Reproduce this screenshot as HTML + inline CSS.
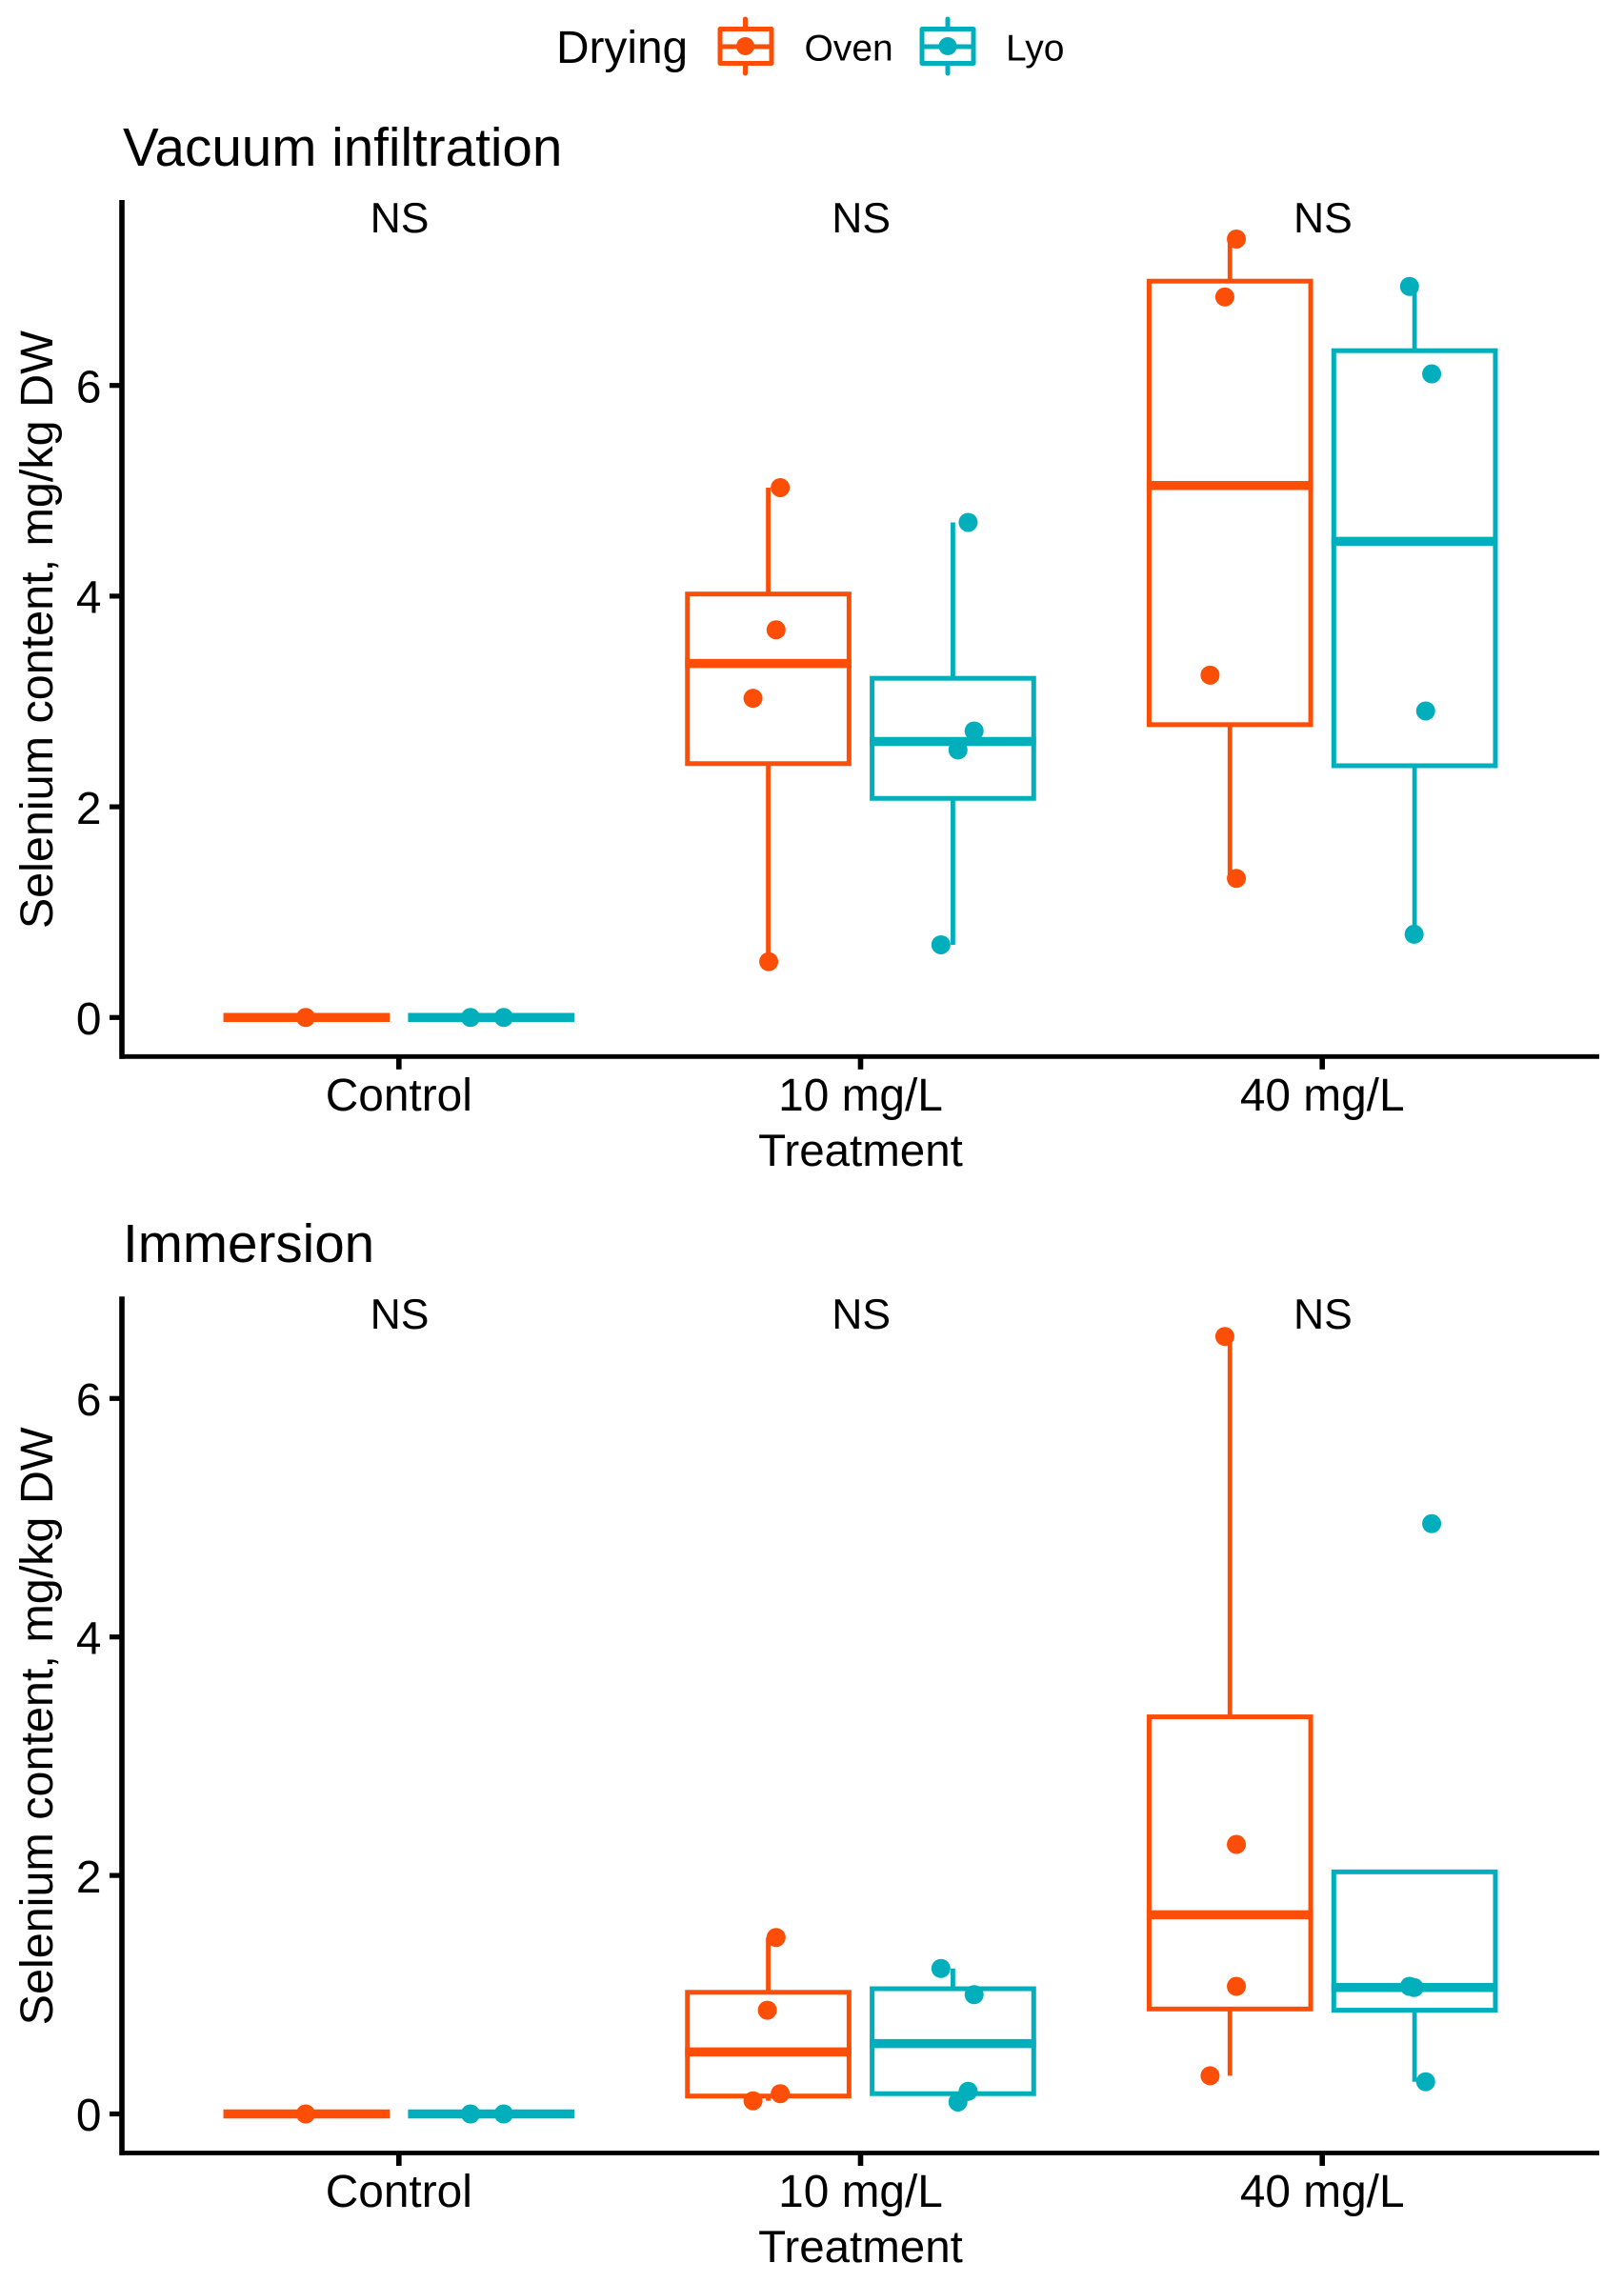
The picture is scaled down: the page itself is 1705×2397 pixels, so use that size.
<!DOCTYPE html>
<html>
<head>
<meta charset="utf-8">
<title>Selenium content by treatment and drying method</title>
<style>
html, body { margin: 0; padding: 0; background: #fff; }
svg { display: block; font-family: "Liberation Sans", Arial, sans-serif; }
</style>
</head>
<body>
<svg id="chart" xmlns="http://www.w3.org/2000/svg" width="1705" height="2397" viewBox="0 0 1705 2397">
  <rect x="0" y="0" width="1705" height="2397" fill="#ffffff"/>
  <g>
    <text x="584" y="66" font-size="47.8" fill="#000">Drying</text>
    <g stroke="#FC4E07" stroke-width="5" fill="none">
      <line x1="782.5" y1="20" x2="782.5" y2="77" stroke-linecap="round"/>
      <rect x="756" y="30.5" width="54" height="36" fill="#fff" stroke-linejoin="round"/>
      <line x1="756" y1="49" x2="810" y2="49"/>
      <circle cx="782.5" cy="48.5" r="9.5" fill="#FC4E07" stroke="none"/>
    </g>
    <text x="844.5" y="63.5" font-size="39" fill="#000">Oven</text>
    <g stroke="#00AFBB" stroke-width="5" fill="none">
      <line x1="995" y1="20" x2="995" y2="77" stroke-linecap="round"/>
      <rect x="968" y="30.5" width="54" height="36" fill="#fff" stroke-linejoin="round"/>
      <line x1="968" y1="49" x2="1022" y2="49"/>
      <circle cx="995" cy="48.5" r="9.5" fill="#00AFBB" stroke="none"/>
    </g>
    <text x="1056" y="63.5" font-size="39" fill="#000">Lyo</text>
  </g>
</svg>
<script>
// ---- Shared data ----
const categories = ['Control', '10 mg/L', '40 mg/L'];
const yTickValues = [0, 2, 4, 6];
const significanceLabels = ['NS', 'NS', 'NS'];

// ---- Vacuum infiltration: box statistics by category ----
const vacuumOvenLow = [0, 0.54, 1.33];
const vacuumOvenQ1 = [0, 2.41, 2.78];
const vacuumOvenMedian = [0, 3.36, 5.05];
const vacuumOvenQ3 = [0, 4.02, 6.99];
const vacuumOvenHigh = [0, 5.03, 7.39];
const vacuumLyoLow = [0, 0.69, 0.79];
const vacuumLyoQ1 = [0, 2.08, 2.39];
const vacuumLyoMedian = [0, 2.62, 4.52];
const vacuumLyoQ3 = [0, 3.22, 6.33];
const vacuumLyoHigh = [0, 4.70, 6.94];

// ---- Vacuum infiltration: raw points and jitter (category units) ----
const vacuumOvenPoints = [[0], [5.03, 3.68, 3.03, 0.53], [7.39, 6.84, 3.25, 1.32]];
const vacuumOvenJitter = [[-0.202], [-0.174, -0.183, -0.233, -0.199], [-0.186, -0.211, -0.243, -0.186]];
const vacuumLyoPoints = [[0, 0], [4.70, 2.72, 2.54, 0.69], [6.94, 6.11, 2.91, 0.79]];
const vacuumLyoJitter = [[0.155, 0.227], [0.233, 0.246, 0.211, 0.174], [0.189, 0.237, 0.224, 0.199]];

// ---- Immersion: box statistics by category ----
const immersionOvenLow = [0, 0.11, 0.32];
const immersionOvenQ1 = [0, 0.15, 0.88];
const immersionOvenMedian = [0, 0.52, 1.67];
const immersionOvenQ3 = [0, 1.02, 3.33];
const immersionOvenHigh = [0, 1.48, 6.52];
const immersionLyoLow = [0, 0.10, 0.27];
const immersionLyoQ1 = [0, 0.17, 0.87];
const immersionLyoMedian = [0, 0.59, 1.06];
const immersionLyoQ3 = [0, 1.05, 2.03];
const immersionLyoHigh = [0, 1.22, 2.03];

// ---- Immersion: raw points and jitter (category units) ----
const immersionOvenPoints = [[0], [1.48, 0.87, 0.17, 0.11], [6.52, 2.26, 1.07, 0.32]];
const immersionOvenJitter = [[-0.202], [-0.183, -0.202, -0.174, -0.233], [-0.211, -0.186, -0.186, -0.243]];
const immersionLyoPoints = [[0, 0], [1.22, 1.00, 0.19, 0.10], [4.95, 1.07, 1.06, 0.27]];
const immersionLyoJitter = [[0.155, 0.227], [0.174, 0.246, 0.233, 0.211], [0.237, 0.189, 0.199, 0.224]];

// ---- Drawing ----
const SVG_NS = 'http://www.w3.org/2000/svg';
const OVEN = '#FC4E07';
const LYO = '#00AFBB';
const svg = document.getElementById('chart');

function xScale(position) { return 418.8 + position * 484.7; }

function make(parent, tag, attrs, text) {
  const node = document.createElementNS(SVG_NS, tag);
  Object.keys(attrs).forEach(function (k) { node.setAttribute(k, attrs[k]); });
  if (text !== undefined) node.textContent = text;
  parent.appendChild(node);
  return node;
}

function drawSeries(parent, seriesName, color, dodge, yScale, low, q1, med, q3, high, points, jitter) {
  categories.forEach(function (cat, i) {
    const group = make(parent, 'g', {});
    
    
    const cx = xScale(i + dodge);
    const left = xScale(i + dodge - 0.175);
    const right = xScale(i + dodge + 0.175);

    const whiskerTop = make(group, 'line', { x1: cx, x2: cx, y1: yScale(q3[i]), y2: yScale(high[i]), stroke: color, 'stroke-width': 4.8 });
    
    

    const whiskerBottom = make(group, 'line', { x1: cx, x2: cx, y1: yScale(q1[i]), y2: yScale(low[i]), stroke: color, 'stroke-width': 4.8 });
    
    

    const rect = make(group, 'rect', { x: left, y: yScale(q3[i]), width: right - left, height: Math.max(0, yScale(q1[i]) - yScale(q3[i])), fill: 'none', stroke: color, 'stroke-width': 5 });
    
    

    const median = make(group, 'line', { x1: left - 2.5, x2: right + 2.5, y1: yScale(med[i]), y2: yScale(med[i]), stroke: color, 'stroke-width': 9.5 });
    
    

    points[i].forEach(function (value, j) {
      const dot = make(group, 'circle', { cx: xScale(i + jitter[i][j]), cy: yScale(value), r: 10, fill: color });
      
      
    });
  });
}

function drawPanel(name, title, offsetY, zeroY, unit, oven, lyo) {
  const panel = make(svg, 'g', {});
  
  
  function yScale(v) { return zeroY - v * unit; }
  const axisY = 1109.3 + offsetY;
  const top = 210 + offsetY;

  const titleText = make(panel, 'text', { x: 129, y: 174 + offsetY, 'font-size': 56.6, fill: '#000' }, title);
  
  

  const yAxis = make(panel, 'line', { x1: 128, x2: 128, y1: top, y2: axisY + 2.4, stroke: '#000', 'stroke-width': 5.6 });
  
  

  const xAxis = make(panel, 'line', { x1: 125.5, x2: 1679, y1: axisY, y2: axisY, stroke: '#000', 'stroke-width': 4.8 });
  
  

  yTickValues.forEach(function (v) {
    const tick = make(panel, 'line', { x1: 115, x2: 128, y1: yScale(v), y2: yScale(v), stroke: '#000', 'stroke-width': 5.2 });
    
    
    const label = make(panel, 'text', { x: 106.5, y: yScale(v) + 17.7, 'font-size': 47.8, 'text-anchor': 'end', fill: '#000' }, String(v));
    
    
  });

  categories.forEach(function (cat, i) {
    const tick = make(panel, 'line', { x1: xScale(i), x2: xScale(i), y1: axisY, y2: axisY + 13.5, stroke: '#000', 'stroke-width': 5.6 });
    
    
    const label = make(panel, 'text', { x: xScale(i), y: 1166 + offsetY, 'font-size': 47.8, 'text-anchor': 'middle', fill: '#000' }, cat);
    
    
    const ns = make(panel, 'text', { x: xScale(i) + 0.7, y: 244 + offsetY, 'font-size': 44.5, 'text-anchor': 'middle', fill: '#000' }, significanceLabels[i]);
    
    
  });

  const xTitle = make(panel, 'text', { x: xScale(1), y: 1224 + offsetY, 'font-size': 47.5, 'text-anchor': 'middle', fill: '#000' }, 'Treatment');
  
  

  const yMid = (top + axisY) / 2 + 1.5;
  const yTitle = make(panel, 'text', { x: 0, y: 0, 'font-size': 48.5, 'text-anchor': 'middle', fill: '#000', transform: 'translate(55 ' + yMid + ') rotate(-90)' }, 'Selenium content, mg/kg DW');
  
  

  drawSeries(panel, 'oven', OVEN, -0.2, yScale, oven[0], oven[1], oven[2], oven[3], oven[4], oven[5], oven[6]);
  drawSeries(panel, 'lyo', LYO, 0.2, yScale, lyo[0], lyo[1], lyo[2], lyo[3], lyo[4], lyo[5], lyo[6]);
}

drawPanel('vacuum-infiltration', 'Vacuum infiltration', 0, 1068.3, 110.6,
  [vacuumOvenLow, vacuumOvenQ1, vacuumOvenMedian, vacuumOvenQ3, vacuumOvenHigh, vacuumOvenPoints, vacuumOvenJitter],
  [vacuumLyoLow, vacuumLyoQ1, vacuumLyoMedian, vacuumLyoQ3, vacuumLyoHigh, vacuumLyoPoints, vacuumLyoJitter]);

drawPanel('immersion', 'Immersion', 1151.2, 2219.5, 125.2,
  [immersionOvenLow, immersionOvenQ1, immersionOvenMedian, immersionOvenQ3, immersionOvenHigh, immersionOvenPoints, immersionOvenJitter],
  [immersionLyoLow, immersionLyoQ1, immersionLyoMedian, immersionLyoQ3, immersionLyoHigh, immersionLyoPoints, immersionLyoJitter]);
</script>
</body>
</html>
